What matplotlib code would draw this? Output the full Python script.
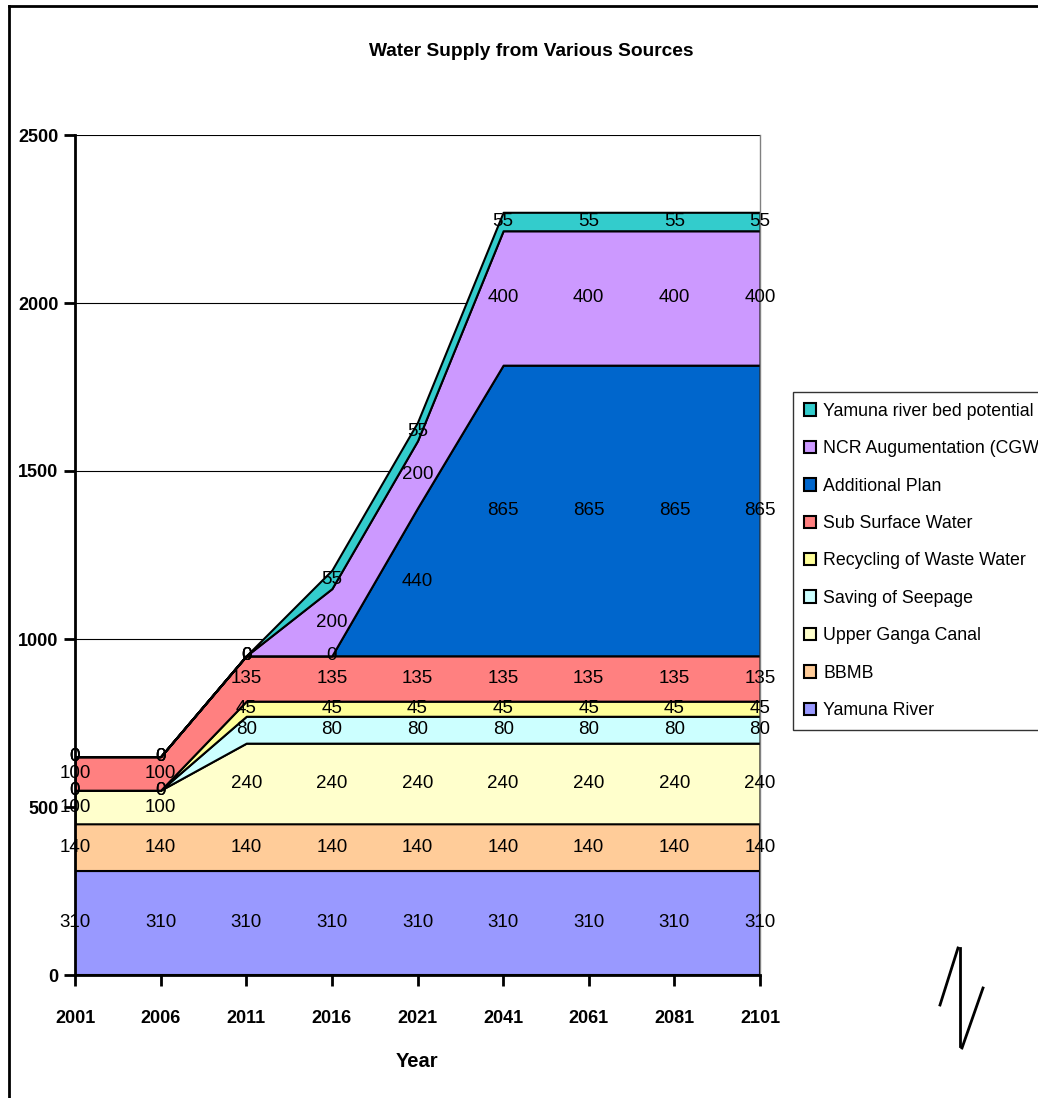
import numpy as np
import matplotlib
matplotlib.use("Agg")
import matplotlib.pyplot as plt
from matplotlib.lines import Line2D

plt.rcParams['font.family'] = ['Liberation Sans', 'DejaVu Sans']

# Дані
years = ["2001", "2006", "2011", "2016", "2021", "2041", "2061", "2081", "2101"]
sources = ["Yamuna River", "BBMB", "Upper Ganga Canal", "Saving of Seepage",
           "Recycling of Waste Water", "Sub Surface Water", "Additional Plan",
           "NCR Augumentation (CGWB)", "Yamuna river bed potential"]
yamuna_river = [310, 310, 310, 310, 310, 310, 310, 310, 310]
bbmb = [140, 140, 140, 140, 140, 140, 140, 140, 140]
upper_ganga = [100, 100, 240, 240, 240, 240, 240, 240, 240]
seepage = [0, 0, 80, 80, 80, 80, 80, 80, 80]
recycling = [0, 0, 45, 45, 45, 45, 45, 45, 45]
sub_surface = [100, 100, 135, 135, 135, 135, 135, 135, 135]
additional = [0, 0, 0, 0, 440, 865, 865, 865, 865]
ncr = [0, 0, 0, 200, 200, 400, 400, 400, 400]
river_bed = [0, 0, 0, 55, 55, 55, 55, 55, 55]
colors = ["#9999FF", "#FFCC99", "#FFFFCC", "#CCFFFF", "#FFFF99",
          "#FF8080", "#0066CC", "#CC99FF", "#33CCCC"]

series = [yamuna_river, bbmb, upper_ganga, seepage, recycling,
          sub_surface, additional, ncr, river_bed]

fig = plt.figure(figsize=(10.38, 10.98), dpi=100)
ax = fig.add_axes([75 / 1038, 1 - 975 / 1098, 685 / 1038, 840 / 1098])

x = np.arange(len(years))
bottom = np.zeros(len(years))
for name, vals, col in zip(sources, series, colors):
    vals = np.array(vals, dtype=float)
    ax.fill_between(x, bottom, bottom + vals, facecolor=col, edgecolor="black",
                    linewidth=1.5, label=name, zorder=2)
    for xi, b, v in zip(x, bottom, vals):
        ax.text(xi, b + v / 2, f"{int(v)}", ha="center", va="center",
                fontsize=13.5, zorder=5)
    bottom = bottom + vals

ax.set_xlim(0, len(years) - 1)
ax.set_ylim(0, 2500)
ax.set_yticks([0, 500, 1000, 1500, 2000, 2500])
ax.set_xticks(x)
ax.set_xticklabels(years)
ax.tick_params(axis="both", labelsize=13, width=2, length=8, direction="out")
ax.tick_params(axis="x", pad=17)
ax.tick_params(axis="y", pad=4)
for lab in ax.get_xticklabels() + ax.get_yticklabels():
    lab.set_fontweight("bold")
ax.yaxis.grid(True, color="black", linewidth=0.8, zorder=0)
ax.set_axisbelow(True)
ax.spines["left"].set_linewidth(2)
ax.spines["bottom"].set_linewidth(2)
ax.spines["top"].set_visible(False)
ax.spines["right"].set_color("#808080")
ax.spines["right"].set_linewidth(1)

ax.set_xlabel("Year", fontsize=14.5, fontweight="bold", labelpad=18)
fig.text(531 / 1038, 1 - 52 / 1098, "Water Supply from Various Sources",
         ha="center", va="center", fontsize=13.8, fontweight="bold")

handles, labels = ax.get_legend_handles_labels()
leg = ax.legend(handles[::-1], labels[::-1], loc="upper left",
                bbox_to_anchor=(793 / 1038, 1 - 392 / 1098),
                bbox_transform=fig.transFigure, fontsize=12.8, frameon=True,
                fancybox=False, edgecolor="black", handlelength=0.7,
                handleheight=0.7, handletextpad=0.4, labelspacing=1.15,
                borderpad=0.6, borderaxespad=0)
leg.get_frame().set_linewidth(1)

# Рамка та позначка
def fpt(px, py):
    return px / 1038, 1 - py / 1098

for (x0, y0), (x1, y1) in [((9, 6), (1038, 6)), ((9, 6), (9, 1098)),
                           ((940, 1005), (958, 948)), ((960, 948), (960, 1046)),
                           ((962, 1048), (983, 988))]:
    a = fpt(x0, y0)
    b = fpt(x1, y1)
    fig.add_artist(Line2D([a[0], b[0]], [a[1], b[1]], color="black",
                          linewidth=2, transform=fig.transFigure))

plt.savefig("out.png", dpi=100)
